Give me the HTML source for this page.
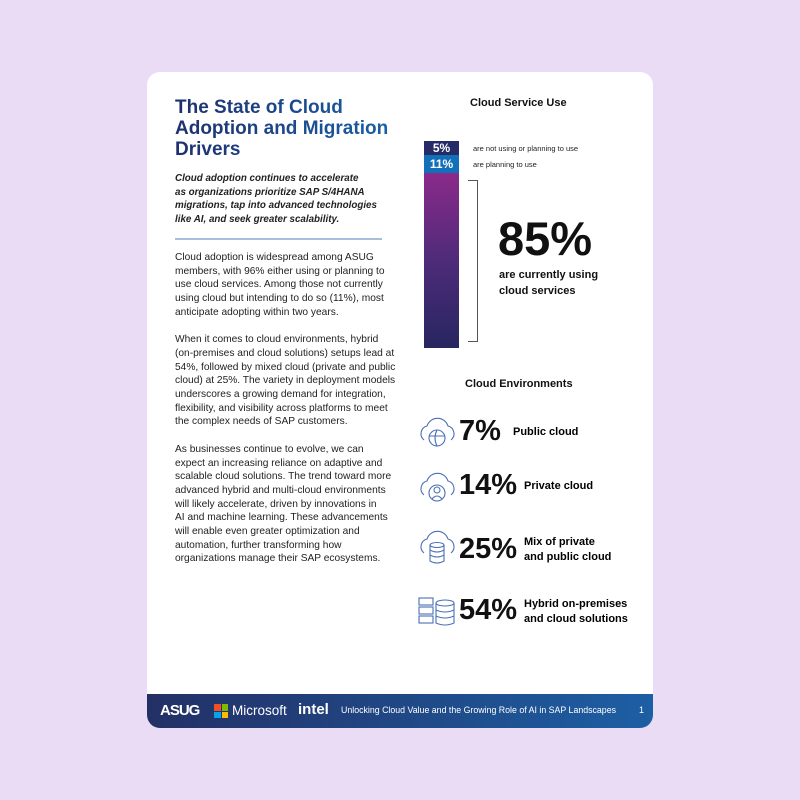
<!DOCTYPE html>
<html><head><meta charset="utf-8"><style>
*{margin:0;padding:0;box-sizing:border-box}
body{width:800px;height:800px;background:#ebdcf5;font-family:"Liberation Sans",sans-serif;position:relative;overflow:hidden}
.card{position:absolute;left:147px;top:72px;width:506px;height:656px;background:#fff;border-radius:13px;overflow:hidden}
.a{position:absolute;white-space:nowrap}
.title{left:28px;top:25px;font-size:19px;font-weight:bold;line-height:21px;color:#1f3577;background:linear-gradient(90deg,#1e2f6e,#1a5fa6);-webkit-background-clip:text;background-clip:text;-webkit-text-fill-color:transparent}
.intro{left:28px;top:100px;font-size:9.8px;font-style:italic;font-weight:bold;line-height:13.5px;color:#222}
.rule{left:28px;top:166px;width:207px;height:1.5px;background:#a9bedc}
.body{left:28px;top:179px;font-size:10.2px;line-height:13.7px;color:#222}
.body p{margin-bottom:13.7px}
.h{font-size:11px;font-weight:bold;color:#111}
.big{font-weight:900;color:#111}
.foot{position:absolute;left:0;bottom:0;width:506px;height:34px;background:linear-gradient(90deg,#233066,#1d5fa4)}
svg.i{position:absolute;left:268px;width:44px;height:36px}
</style></head><body>
<div class="card">
<div class="a title">The State of Cloud<br>Adoption and Migration<br>Drivers</div>
<div class="a intro">Cloud adoption continues to accelerate<br>as organizations prioritize SAP S/4HANA<br>migrations, tap into advanced technologies<br>like AI, and seek greater scalability.</div>
<div class="a rule"></div>
<div class="a body">
<p>Cloud adoption is widespread among ASUG<br>members, with 96% either using or planning to<br>use cloud services. Among those not currently<br>using cloud but intending to do so (11%), most<br>anticipate adopting within two years.</p>
<p>When it comes to cloud environments, hybrid<br>(on-premises and cloud solutions) setups lead at<br>54%, followed by mixed cloud (private and public<br>cloud) at 25%. The variety in deployment models<br>underscores a growing demand for integration,<br>flexibility, and visibility across platforms to meet<br>the complex needs of SAP customers.</p>
<p>As businesses continue to evolve, we can<br>expect an increasing reliance on adaptive and<br>scalable cloud solutions. The trend toward more<br>advanced hybrid and multi-cloud environments<br>will likely accelerate, driven by innovations in<br>AI and machine learning. These advancements<br>will enable even greater optimization and<br>automation, further transforming how<br>organizations manage their SAP ecosystems.</p>
</div>

<div class="a h" style="left:323px;top:25px">Cloud Service Use</div>
<div class="a" style="left:277px;top:69px;width:35px;height:14px;background:#262a66;color:#fff;font-weight:bold;font-size:12px;text-align:center;line-height:14px">5%</div>
<div class="a" style="left:277px;top:83px;width:35px;height:18px;background:#1270b8;color:#fff;font-weight:bold;font-size:12px;text-align:center;line-height:18px">11%</div>
<div class="a" style="left:277px;top:101px;width:35px;height:175px;background:linear-gradient(180deg,#8b2a8a,#4e2b79 50%,#272660)"></div>
<div class="a" style="left:326px;top:72px;font-size:7.5px;color:#222">are not using or planning to use</div>
<div class="a" style="left:326px;top:88px;font-size:7.5px;color:#222">are planning to use</div>
<div class="a" style="left:321px;top:108px;width:10px;height:162px;border:1.5px solid #555;border-left:none"></div>
<div class="a big" style="left:351px;top:142px;font-size:47px;line-height:50px">85%</div>
<div class="a" style="left:352px;top:195px;font-size:11px;font-weight:bold;line-height:16px;color:#111">are currently using<br>cloud services</div>

<div class="a h" style="left:318px;top:306px">Cloud Environments</div>

<svg class="i" style="top:342px" viewBox="0 0 44 36" fill="none" stroke="#4a6fb5" stroke-width="1.1"><path d="M9 26 a8 8 0 0 1 3-14 a11 11 0 0 1 21 0 a8 8 0 0 1 3 14"/><circle cx="22" cy="24" r="8"/><path d="M14 22 h16 M22 16 q-4 8 0 16"/></svg>
<svg class="i" style="top:397px" viewBox="0 0 44 36" fill="none" stroke="#4a6fb5" stroke-width="1.1"><path d="M9 26 a8 8 0 0 1 3-14 a11 11 0 0 1 21 0 a8 8 0 0 1 3 14"/><circle cx="22" cy="24" r="8"/><circle cx="22" cy="21" r="3"/><path d="M17 30 q5-6 10 0"/></svg>
<svg class="i" style="top:457px" viewBox="0 0 44 36" fill="none" stroke="#4a6fb5" stroke-width="1.1"><path d="M9 24 a8 8 0 0 1 3-14 a11 11 0 0 1 21 0 a8 8 0 0 1 3 14"/><ellipse cx="22" cy="16" rx="7" ry="2.5"/><path d="M15 16 v16 q7 4 14 0 v-16 M15 21 q7 4 14 0 M15 26 q7 4 14 0"/></svg>
<svg class="i" style="top:520px" viewBox="0 0 44 36" fill="none" stroke="#4a6fb5" stroke-width="1.1"><rect x="4" y="6" width="14" height="7"/><rect x="4" y="15" width="14" height="7"/><rect x="4" y="24" width="14" height="7"/><ellipse cx="30" cy="11" rx="9" ry="3"/><path d="M21 11 v20 q9 4 18 0 v-20 M21 18 q9 4 18 0 M21 24 q9 4 18 0"/></svg>

<div class="a big" style="left:312px;top:343px;font-size:29px">7%</div>
<div class="a" style="left:366px;top:354px;font-size:11px;font-weight:bold">Public cloud</div>
<div class="a big" style="left:312px;top:397px;font-size:29px">14%</div>
<div class="a" style="left:377px;top:408px;font-size:11px;font-weight:bold">Private cloud</div>
<div class="a big" style="left:312px;top:461px;font-size:29px">25%</div>
<div class="a" style="left:377px;top:463px;font-size:11px;font-weight:bold;line-height:15px">Mix of private<br>and public cloud</div>
<div class="a big" style="left:312px;top:522px;font-size:29px">54%</div>
<div class="a" style="left:377px;top:525px;font-size:11px;font-weight:bold;line-height:15px">Hybrid on-premises<br>and cloud solutions</div>

<div class="foot">
<div class="a" style="left:13px;top:8px;font-size:15px;font-weight:bold;color:#fff;letter-spacing:-1px">ASUG</div>
<div class="a" style="left:67px;top:10px;width:14px;height:14px;display:grid;grid-template-columns:1fr 1fr;gap:1px"><i style="background:#f25022"></i><i style="background:#7fba00"></i><i style="background:#00a4ef"></i><i style="background:#ffb900"></i></div>
<div class="a" style="left:85px;top:9px;font-size:13.5px;color:#fff">Microsoft</div>
<div class="a" style="left:151px;top:7px;font-size:15px;font-weight:bold;color:#fff">intel</div>
<div class="a" style="left:194px;top:11px;font-size:8.8px;color:#fff">Unlocking Cloud Value and the Growing Role of AI in SAP Landscapes</div>
<div class="a" style="left:492px;top:11px;font-size:9px;color:#fff">1</div>
</div>
</div>
</body></html>
